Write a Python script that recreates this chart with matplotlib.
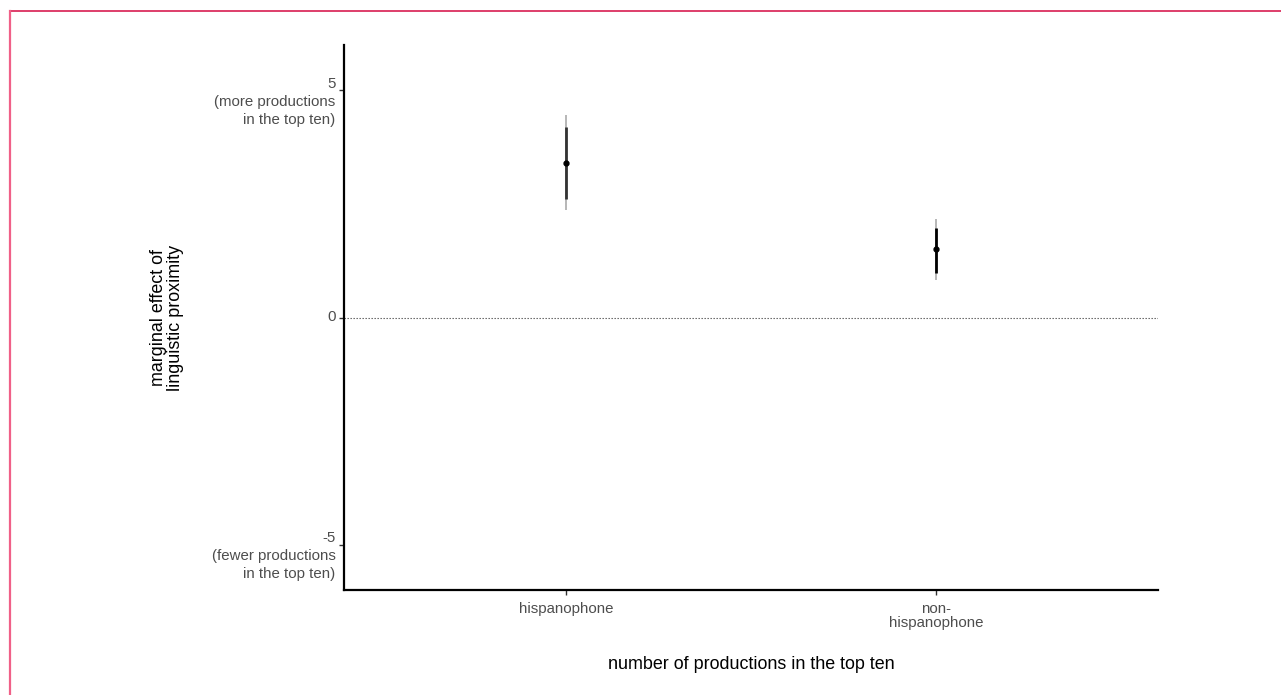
import matplotlib.pyplot as plt
from matplotlib.lines import Line2D

plt.rcParams['font.family'] = ['Liberation Sans', 'DejaVu Sans']

groups = ['hispanophone', 'non-\nhispanophone']
estimate = [3.41, 1.50]
inner_lo = [2.60, 0.97]
inner_hi = [4.19, 1.98]
outer_lo = [2.36, 0.82]
outer_hi = [4.45, 2.16]
yticks = [-5, 0, 5]
ytick_labels = ['-5\n(fewer productions\nin the top ten)', '0',
                '5\n(more productions\nin the top ten)']

fig = plt.figure(figsize=(12.81, 6.95), dpi=100)
ax = fig.add_axes([344 / 1281, 1 - 590 / 695, (1158 - 344) / 1281, (590 - 45) / 695])

xs = [1, 2]
ax.axhline(0, color='#555555', lw=0.8, ls=(0, (1.2, 1.5)), zorder=1)
ax.vlines(xs, outer_lo, outer_hi, color='#aaaaaa', lw=1.2, zorder=2)
ax.vlines(xs[0], inner_lo[0], inner_hi[0], color='#333333', lw=2.0, zorder=3)
ax.vlines(xs[1], inner_lo[1], inner_hi[1], color='#000000', lw=2.0, zorder=3)
ax.plot(xs, estimate, 'o', color='black', ms=3.5, zorder=4)

ax.set_xlim(0.4, 2.6)
ax.set_ylim(-6, 6)
ax.set_xticks(xs)
ax.set_xticklabels(groups, fontsize=10.8, color='#4d4d4d', linespacing=1.0)
ax.set_yticks(yticks)
ax.set_yticklabels([''] * len(yticks))
# y tick labels drawn as text blocks hanging from each tick
for v, lab in zip(yticks, ytick_labels):
    if '\n' in lab:
        ax.annotate(lab, xy=(0, v), xycoords=('axes fraction', 'data'),
                    xytext=(-6.2, 9.8), textcoords='offset points',
                    ha='right', va='top', fontsize=10.8, color='#4d4d4d',
                    linespacing=1.35, annotation_clip=False)
    else:
        ax.annotate(lab, xy=(0, v), xycoords=('axes fraction', 'data'),
                    xytext=(-6.2, 0.5), textcoords='offset points',
                    ha='right', va='center', fontsize=10.8, color='#4d4d4d',
                    annotation_clip=False)

ax.tick_params(axis='both', length=3.5, width=1, color='#333333')
ax.tick_params(axis='x', pad=5)
for side in ['top', 'right']:
    ax.spines[side].set_visible(False)
for side in ['left', 'bottom']:
    ax.spines[side].set_linewidth(1.6)
    ax.spines[side].set_color('black')

ax.set_xlabel('number of productions in the top ten', fontsize=12.9, labelpad=19)
fig.text(167 / 1281, 1 - 318 / 695, 'marginal effect of\nlinguistic proximity',
         rotation=90, ha='center', va='center', fontsize=12.9, linespacing=1.0)

# page border (top and left)
fig.add_artist(Line2D([10 / 1281, 1], [1 - 11 / 695, 1 - 11 / 695],
                      transform=fig.transFigure, color='#d81e52', lw=1.2))
fig.add_artist(Line2D([10 / 1281, 10 / 1281], [0, 1 - 11 / 695],
                      transform=fig.transFigure, color='#f06088', lw=1.6))

fig.savefig('out.png', dpi=100)
